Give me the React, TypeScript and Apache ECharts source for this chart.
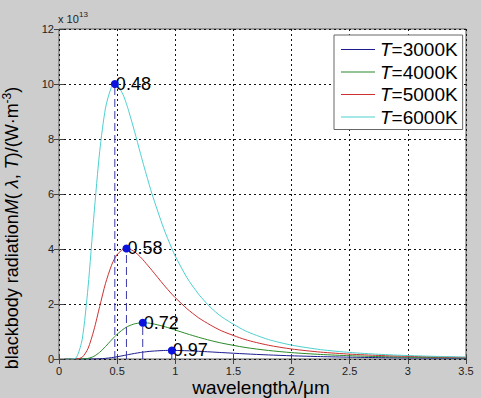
import React, { useEffect, useRef } from 'react';
import * as echarts from 'echarts';

// wavelength (µm)
const wavelengths = [0.05, 0.1, 0.15, 0.2, 0.25, 0.3, 0.35, 0.4, 0.45, 0.48, 0.5, 0.55, 0.58, 0.6, 0.65, 0.7, 0.72, 0.75, 0.8, 0.9, 0.97, 1.0, 1.1, 1.2, 1.3, 1.4, 1.6, 1.8, 2.0, 2.25, 2.5, 2.75, 3.0, 3.25, 3.5];
// radiation, ×10^13 W·m^-3
const m3000 = [0, 0, 0, 0, 0, 0.002, 0.008, 0.023, 0.048, 0.067, 0.082, 0.121, 0.146, 0.163, 0.202, 0.236, 0.248, 0.264, 0.285, 0.309, 0.313, 0.312, 0.301, 0.281, 0.258, 0.234, 0.187, 0.148, 0.117, 0.087, 0.066, 0.05, 0.039, 0.031, 0.024];
const m4000 = [0, 0, 0, 0.002, 0.022, 0.096, 0.245, 0.454, 0.685, 0.818, 0.9, 1.075, 1.157, 1.202, 1.279, 1.313, 1.318, 1.314, 1.288, 1.186, 1.096, 1.054, 0.918, 0.79, 0.676, 0.577, 0.421, 0.311, 0.232, 0.165, 0.119, 0.088, 0.067, 0.051, 0.04];
const m5000 = [0, 0, 0.002, 0.066, 0.384, 1.05, 1.91, 2.75, 3.39, 3.67, 3.8, 3.99, 4.02, 4.01, 3.9, 3.71, 3.62, 3.47, 3.22, 2.7, 2.36, 2.23, 1.83, 1.5, 1.24, 1.02, 0.708, 0.502, 0.364, 0.25, 0.177, 0.129, 0.096, 0.073, 0.056];
const m6000 = [0, 0, 0.056, 0.73, 2.62, 5.2, 7.55, 9.13, 9.88, 10.0, 9.98, 9.62, 9.28, 9.01, 8.27, 7.48, 7.17, 6.72, 6.0, 4.75, 4.02, 3.74, 2.96, 2.36, 1.89, 1.53, 1.03, 0.71, 0.505, 0.341, 0.238, 0.171, 0.126, 0.095, 0.072];

const seriesTemps = ['3000K', '4000K', '5000K', '6000K'];
const seriesColors = ['#1c1c8e', '#2a8a2a', '#cc3030', '#4ecfcf'];

const peakX = [0.48, 0.58, 0.72, 0.97];
const peakY = [10.0, 4.02, 1.32, 0.31];
const peakLabels = ['0.48', '0.58', '0.72', '0.97'];

const FONT = '"Liberation Sans", Arial, Helvetica, sans-serif';

export default function App() {
  const ref = useRef<HTMLDivElement>(null);

  useEffect(() => {
    const chart = echarts.init(ref.current!, null, { renderer: 'svg' });
    const curves = [m3000, m4000, m5000, m6000];

    const lineSeries = curves.map((vals, i) => ({
      name: seriesTemps[i],
      type: 'line',
      data: wavelengths.map((w, j) => [w, vals[j]]),
      symbol: 'none',
      showSymbol: false,
      smooth: 0.25,
      lineStyle: { width: 1, color: seriesColors[i] },
      itemStyle: { color: seriesColors[i] },
      z: 2,
      silent: true,
    }));

    const dropSeries = peakX.map((x, i) => ({
      type: 'line',
      data: [[x, 0], [x, peakY[i]]],
      symbol: 'none',
      lineStyle: { width: 1, type: [8, 4], color: '#3a3aa6' },
      z: 3,
      silent: true,
    }));

    const peakData = peakX.map((x, i) => [x, peakY[i]]);

    const option: any = {
      animation: false,
      backgroundColor: '#cdcdcd',
      textStyle: { fontFamily: FONT },
      grid: {
        left: 59, top: 29, right: 15, bottom: 39,
        show: true, backgroundColor: '#ffffff', borderColor: '#555555', borderWidth: 1,
      },
      legend: {
        data: seriesTemps,
        orient: 'vertical',
        left: 334,
        top: 35,
        padding: [5, 5, 3, 7],
        itemGap: 3.5,
        itemWidth: 34,
        itemHeight: 1,
        icon: 'rect',
        backgroundColor: '#ffffff',
        borderColor: '#666666',
        borderWidth: 1,
        borderRadius: 0,
        formatter: (name: string) => '{i|T}=' + name,
        textStyle: {
          fontFamily: FONT, fontSize: 19, color: '#000',
          rich: { i: { fontStyle: 'italic', fontFamily: FONT, fontSize: 19, color: '#000' } },
        },
      },
      xAxis: [
        {
          type: 'value', min: 0, max: 3.5, interval: 0.5,
          axisLine: { show: false },
          axisTick: { show: true, inside: true, length: 5, lineStyle: { color: '#444' } },
          axisLabel: { fontSize: 11, color: '#222', margin: 6, fontFamily: FONT },
          splitLine: { show: true, lineStyle: { color: '#111', type: [2, 3], width: 1 } },
        },
        {
          type: 'value', position: 'top', min: 0, max: 3.5, interval: 0.5,
          axisLine: { show: false },
          axisTick: { show: true, inside: true, length: 5, lineStyle: { color: '#444' } },
          axisLabel: { show: false },
          splitLine: { show: false },
        },
      ],
      yAxis: [
        {
          type: 'value', min: 0, max: 12, interval: 2,
          axisLine: { show: false },
          axisTick: { show: true, inside: true, length: 5, lineStyle: { color: '#444' } },
          axisLabel: { fontSize: 11, color: '#222', margin: 5, fontFamily: FONT },
          splitLine: { show: true, lineStyle: { color: '#111', type: [2, 3], width: 1 } },
        },
        {
          type: 'value', position: 'right', min: 0, max: 12, interval: 2,
          axisLine: { show: false },
          axisTick: { show: true, inside: true, length: 5, lineStyle: { color: '#444' } },
          axisLabel: { show: false },
          splitLine: { show: false },
        },
      ],
      series: [
        ...lineSeries,
        ...dropSeries,
        {
          type: 'scatter',
          data: peakData,
          symbolSize: 0.1,
          itemStyle: { color: 'rgba(0,0,0,0)', opacity: 1 },
          label: {
            show: true, position: 'right', distance: 1,
            formatter: (p: any) => peakLabels[p.dataIndex],
            fontSize: 18, color: '#000', opacity: 1, fontFamily: FONT,
          },
          z: 4,
          silent: true,
        },
        {
          type: 'scatter',
          data: peakData,
          symbolSize: 8,
          itemStyle: { color: '#0a12dc', opacity: 1 },
          z: 5,
          silent: true,
        },
      ],
      graphic: [
        {
          type: 'text', x: 58, y: 13,
          style: { text: 'x 10', fontSize: 11, fontFamily: FONT, fill: '#222' },
        },
        {
          type: 'text', x: 79, y: 10,
          style: { text: '13', fontSize: 8, fontFamily: FONT, fill: '#222' },
        },
        {
          type: 'text', x: 12, y: 228, rotation: Math.PI / 2,
          style: {
            text: 'blackbody radiation{i|M}( {i|λ}, {i|T})/(W·m{s|-3})',
            fontSize: 18, fontFamily: FONT, fill: '#000',
            align: 'center', verticalAlign: 'middle',
            textAlign: 'center', textVerticalAlign: 'middle',
            rich: {
              i: { fontStyle: 'italic', fontSize: 18, fontFamily: FONT, fill: '#000', color: '#000' },
              s: { fontSize: 12, fontFamily: FONT, padding: [0, 0, 10, 0], fill: '#000', color: '#000' },
            },
          },
        },
        {
          type: 'text', x: 261, y: 387,
          style: {
            text: 'wavelength{i|λ}/μm',
            fontSize: 19, fontFamily: FONT, fill: '#000',
            align: 'center', verticalAlign: 'middle',
            textAlign: 'center', textVerticalAlign: 'middle',
            rich: {
              i: { fontStyle: 'italic', fontSize: 19, fontFamily: FONT, fill: '#000', color: '#000' },
            },
          },
        },
      ],
    };

    chart.setOption(option);
    return () => chart.dispose();
  }, []);

  return (
    <div
      ref={ref}
      style={{ position: 'fixed', left: 0, top: 0, width: 481, height: 398 }}
    />
  );
}
